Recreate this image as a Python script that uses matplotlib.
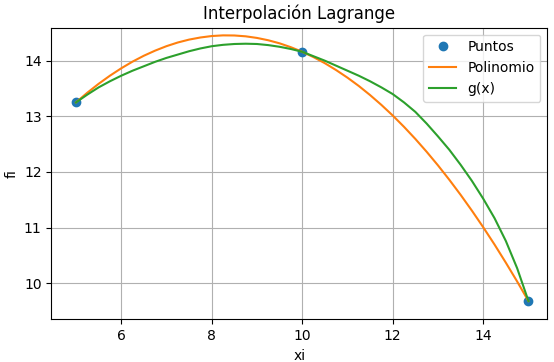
import numpy as np
import matplotlib.pyplot as plt

# puntos de interpolacion
xi = [5, 10, 15]
fi = [13.25, 14.16, 9.68]

# x de las curvas (paso 0.25)
xs = [5, 5.25, 5.5, 5.75, 6, 6.25, 6.5, 6.75, 7, 7.25, 7.5, 7.75, 8, 8.25, 8.5, 8.75,
      9, 9.25, 9.5, 9.75, 10, 10.25, 10.5, 10.75, 11, 11.25, 11.5, 11.75, 12, 12.25,
      12.5, 12.75, 13, 13.25, 13.5, 13.75, 14, 14.25, 14.5, 14.75, 15]

# polinomio de Lagrange (valores leidos)
yp = [13.25, 13.424, 13.584, 13.730, 13.863, 13.983, 14.089, 14.181, 14.261, 14.327,
      14.379, 14.417, 14.443, 14.455, 14.453, 14.438, 14.409, 14.367, 14.312, 14.242,
      14.16, 14.064, 13.955, 13.831, 13.695, 13.546, 13.382, 13.205, 13.015, 12.811,
      12.594, 12.363, 12.119, 11.861, 11.590, 11.305, 11.007, 10.696, 10.370, 10.032, 9.68]

# g(x)
yg = [13.25, 13.39, 13.52, 13.63, 13.73, 13.82, 13.90, 13.98, 14.05, 14.11,
      14.17, 14.22, 14.26, 14.285, 14.30, 14.305, 14.30, 14.28, 14.25, 14.21,
      14.16, 14.08, 14.00, 13.91, 13.82, 13.73, 13.63, 13.52, 13.40, 13.25,
      13.08, 12.87, 12.64, 12.40, 12.13, 11.84, 11.52, 11.17, 10.76, 10.27, 9.68]

fig = plt.figure(figsize=(5.54, 3.62), dpi=100)
ax = fig.add_axes([0.0926, 0.118, 0.8953, 0.8055])

ax.plot(xi, fi, 'o', label='Puntos')
ax.plot(xs, yp, label='Polinomio')
ax.plot(xs, yg, label='g(x)')
ax.set_xlim(4.455, 15.416)
ax.set_ylim(9.353, 14.593)
ax.set_xlabel('xi')
ax.set_ylabel('fi')
ax.set_title('Interpolación Lagrange')
ax.grid(True)
ax.legend(loc='upper right')

fig.savefig('out.png', dpi=100)
